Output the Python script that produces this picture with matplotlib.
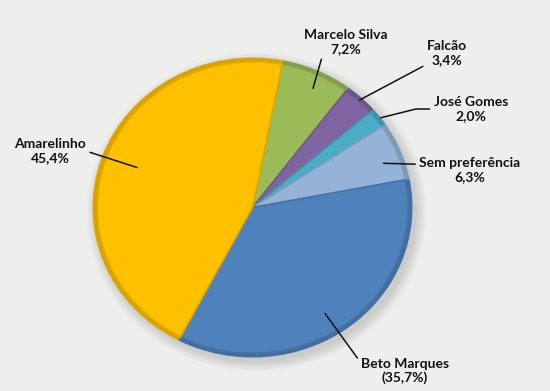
import numpy as np
import matplotlib.pyplot as plt
from matplotlib.colors import to_rgb

# survey results (percent)
labels = ["Marcelo Silva", "Falcão", "José Gomes", "Sem preferência", "Beto Marques", "Amarelinho"]
values = [7.2, 3.4, 2.0, 6.3, 35.7, 45.4]
value_text = ["7,2%", "3,4%", "2,0%", "6,3%", "(35,7%)", "45,4%"]

colors = ["#9BBB59", "#8064A2", "#4BACC6", "#95B3D7", "#4F81BD", "#FFC000"]

# label layout: text centre in figure pixels (from top-left), anchor radius / angle offset, line start
text_pos = [(346, 42), (447, 53), (471, 109), (470, 170), (405, 371), (50, 151)]
anchor_r = [0.88, 0.98, 1.0, 0.87, 0.84, 0.77]
anchor_dang = [-1.5, 0, -0.5, -2.5, -4, -1]
rel_pos = [(0.22, 0.0), (0.0, 0.15), (0.0, 0.5), (0.0, 0.72), (0.0, 0.8), (1.0, 0.5)]
conn = ["arc3", "angle,angleA=0,angleB=28,rad=0", "angle,angleA=0,angleB=14,rad=0",
        "arc3", "arc3", "arc3"]

W, H = 550, 391
cx, cy, rx, ry = 252.5, 207.5, 160.0, 150.0


def darker(c, f=0.8):
    r, g, b = to_rgb(c)
    return (r * f, g * f, b * f)


fig = plt.figure(figsize=(W / 100, H / 100), dpi=100)
fig.patch.set_facecolor("#EEEEEC")
ax = fig.add_axes([0, 0, 1, 1])

# soft shadow
for k in range(6):
    ax.pie([1], radius=1.0 + 0.012 * k, center=(0.025, -0.03), colors=["#000000"],
           wedgeprops=dict(alpha=0.022, linewidth=0))

startangle = 79
wedges, _ = ax.pie(values, colors=[darker(c, 0.85) for c in colors], startangle=startangle,
                   counterclock=False, radius=1.0, wedgeprops=dict(linewidth=0))
inner, _ = ax.pie(values, colors=colors, startangle=startangle, counterclock=False,
                  radius=0.972, wedgeprops=dict(linewidth=1.2, edgecolor="none"))
for w, c in zip(inner, colors):
    w.set_edgecolor(darker(c, 0.88))

ax.set_aspect("auto")
ax.set_xlim(-cx / rx, (W - cx) / rx)
ax.set_ylim(-(H - cy) / ry, cy / ry)
ax.set_axis_off()

plt.rcParams["font.family"] = ["Lato", "DejaVu Sans"]

for w, lab, vt, tp, r, da, rp, cs in zip(wedges, labels, value_text, text_pos, anchor_r,
                                         anchor_dang, rel_pos, conn):
    ang = np.deg2rad((w.theta1 + w.theta2) / 2 + da)
    xy = (r * np.cos(ang), r * np.sin(ang))
    ax.annotate(lab + "\n" + vt, xy=xy, xytext=(tp[0] / W, 1 - tp[1] / H),
                textcoords="figure fraction", ha="center", va="center",
                fontsize=10, fontweight="bold", color="#111111", linespacing=1.2,
                arrowprops=dict(arrowstyle="-", color="#111111", lw=1.1,
                                relpos=rp, shrinkA=1, shrinkB=0, connectionstyle=cs))

fig.savefig("out.png", dpi=100, facecolor=fig.get_facecolor())
